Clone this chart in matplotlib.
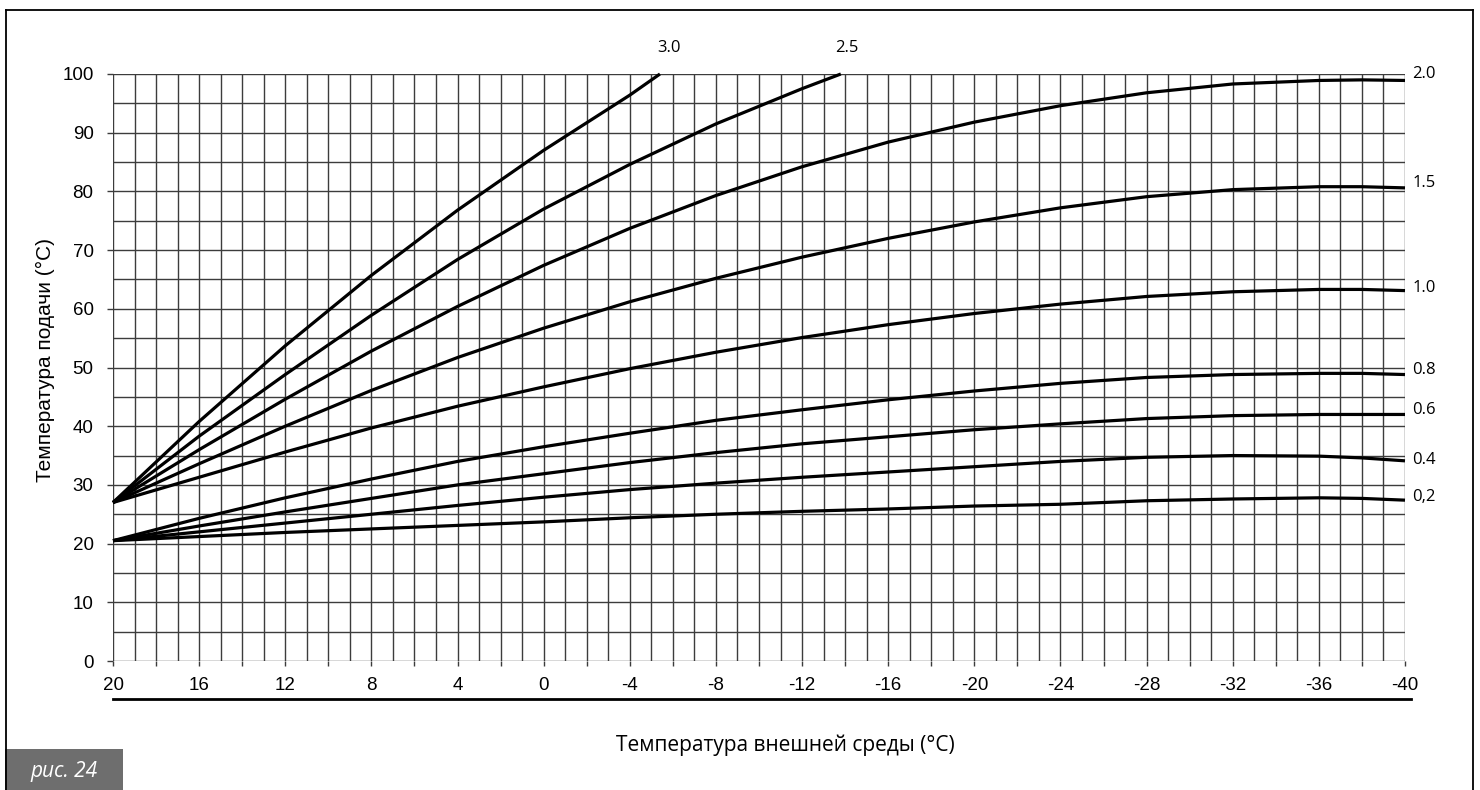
import numpy as np
import matplotlib
matplotlib.use("Agg")
import matplotlib.pyplot as plt
from matplotlib.lines import Line2D
from matplotlib.patches import Rectangle
from matplotlib.ticker import MultipleLocator, FuncFormatter

# ---------------- data ----------------
t_out = [20, 16, 12, 8, 4, 0, -4, -8, -12, -16, -20, -24, -28, -32, -36, -38, -40]

t_out_30 = [20, 16, 12, 8, 4, 0, -4, -5.4]
curve_30 = [27.0, 40.8, 53.7, 65.7, 76.8, 87.0, 96.4, 100.0]

t_out_25 = [20, 16, 12, 8, 4, 0, -4, -8, -12, -13.8]
curve_25 = [27.0, 38.3, 48.8, 58.9, 68.4, 77.0, 84.6, 91.5, 97.5, 100.0]

curve_20 = [27.0, 36.0, 44.6, 52.8, 60.4, 67.4, 73.7, 79.3, 84.2, 88.4, 91.8, 94.6, 96.8, 98.3, 98.9, 99.0, 98.9]
curve_15 = [27.0, 33.6, 40.0, 46.1, 51.7, 56.7, 61.2, 65.2, 68.8, 72.0, 74.8, 77.2, 79.1, 80.3, 80.8, 80.8, 80.6]
curve_10 = [27.0, 31.3, 35.6, 39.7, 43.4, 46.7, 49.8, 52.6, 55.1, 57.3, 59.2, 60.8, 62.1, 62.9, 63.3, 63.3, 63.1]
curve_08 = [20.5, 24.3, 27.8, 31.0, 34.0, 36.5, 38.8, 41.0, 42.8, 44.5, 46.0, 47.3, 48.3, 48.8, 49.0, 49.0, 48.8]
curve_06 = [20.5, 23.0, 25.4, 27.7, 30.0, 31.9, 33.8, 35.5, 37.0, 38.2, 39.4, 40.4, 41.3, 41.8, 42.0, 42.0, 42.0]
curve_04 = [20.5, 22.0, 23.5, 25.0, 26.5, 27.9, 29.2, 30.3, 31.3, 32.2, 33.1, 34.0, 34.7, 35.0, 34.9, 34.6, 34.1]
curve_02 = [20.5, 21.2, 21.9, 22.5, 23.1, 23.7, 24.4, 25.0, 25.5, 25.9, 26.4, 26.7, 27.3, 27.6, 27.8, 27.7, 27.4]

right_labels = ["2.0", "1.5", "1.0", "0.8", "0.6", "0.4", "0,2"]
right_label_y = [100.0, 81.4, 63.6, 49.5, 42.7, 34.2, 28.0]
top_labels = ["3.0", "2.5"]
top_label_x = [-5.8, -14.1]

x_label = "Температура внешней среды (°C)"
y_label = "Температура подачи (°C)"
fig_tag = "рис. 24"

# ---------------- figure ----------------
W, H = 1480, 790
fig = plt.figure(figsize=(W / 100, H / 100), dpi=100)
fig.patch.set_facecolor("white")

ax = fig.add_axes([113 / W, 1 - 661 / H, (1405 - 113) / W, (661 - 74) / H])
ax.set_xlim(20, -40)
ax.set_ylim(0, 100)
for s in ax.spines.values():
    s.set_visible(False)

grid_col = "#3c3c3c"
ax.xaxis.set_major_locator(MultipleLocator(2))
ax.xaxis.set_minor_locator(MultipleLocator(1))
ax.yaxis.set_major_locator(MultipleLocator(10))
ax.yaxis.set_minor_locator(MultipleLocator(5))
ax.xaxis.set_major_formatter(FuncFormatter(lambda v, p: f"{int(round(v))}" if int(round(v)) % 4 == 0 else ""))
ax.yaxis.set_major_formatter(FuncFormatter(lambda v, p: f"{int(round(v))}"))
ax.grid(True, which="both", color=grid_col, lw=1.0)
ax.set_axisbelow(True)

ax.tick_params(axis="x", which="major", direction="out", length=3.8, width=1.0,
               color=grid_col, pad=8, labelsize=13.5)
ax.tick_params(axis="y", which="major", direction="out", length=4.5, width=1.0,
               color=grid_col, pad=9.5, labelsize=13.5)
ax.tick_params(which="minor", length=0)
for lab in ax.get_xticklabels() + ax.get_yticklabels():
    lab.set_fontfamily("Liberation Sans")

lw = 2.3
ax.plot(t_out_30, curve_30, color="black", lw=lw, solid_capstyle="butt", clip_on=False)
ax.plot(t_out_25, curve_25, color="black", lw=lw, solid_capstyle="butt", clip_on=False)
for c in [curve_20, curve_15, curve_10, curve_08, curve_06, curve_04, curve_02]:
    ax.plot(t_out, c, color="black", lw=lw, solid_capstyle="butt", clip_on=False)

for txt, yv in zip(right_labels, right_label_y):
    ax.text(-40.35, yv, txt, ha="left", va="center", fontsize=12,
            family="Open Sans", clip_on=False)
for txt, xv in zip(top_labels, top_label_x):
    ax.text(xv, 104.5, txt, ha="center", va="center", fontsize=12,
            family="Open Sans", clip_on=False)

# thick line under x tick labels
ax.plot([20, -40.3], [-0.0647, -0.0647], color="black", lw=2.0,
        transform=ax.get_xaxis_transform(), clip_on=False)

fig.text(785 / W, 1 - 745 / H, x_label, ha="center", va="center",
         fontsize=15, family="Open Sans")
fig.text(45 / W, 1 - 360 / H, y_label, ha="center", va="center",
         rotation=90, fontsize=15, family="Liberation Sans")

# outer frame
fc = "black"
fig.add_artist(Line2D([6 / W, 6 / W], [0, 1 - 10 / H], color=fc, lw=1.3))
fig.add_artist(Line2D([6 / W, 1473 / W], [1 - 10 / H, 1 - 10 / H], color=fc, lw=1.3))
fig.add_artist(Line2D([1473 / W, 1473 / W], [0, 1 - 10 / H], color=fc, lw=1.3))

# figure tag box
fig.add_artist(Rectangle((5 / W, 0), (123 - 5) / W, (790 - 749) / H,
                         transform=fig.transFigure, facecolor="#6e6e6e",
                         edgecolor="none"))
fig.text(64 / W, 1 - 772 / H, fig_tag, ha="center", va="center", color="white",
         fontsize=15, style="italic", family="Open Sans")

fig.savefig("out.png", dpi=100)
